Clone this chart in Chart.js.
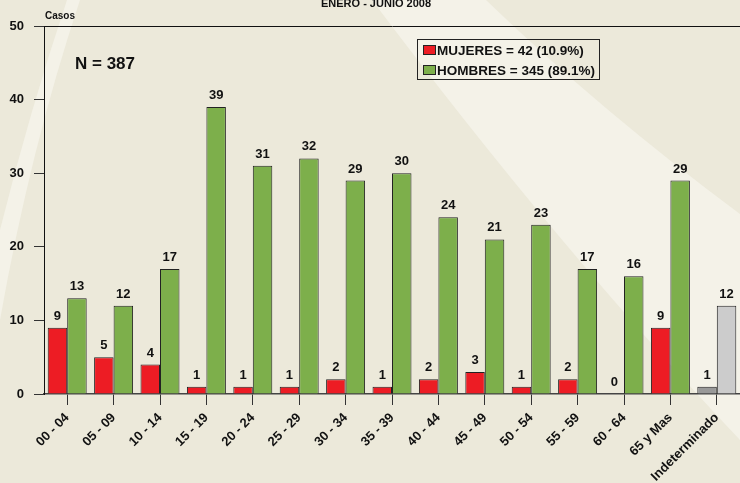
<!DOCTYPE html>
<html>
<head>
<meta charset="utf-8">
<script src="https://cdn.jsdelivr.net/npm/chart.js@4.4.0/dist/chart.umd.min.js"></script>
<style>
  html, body { margin: 0; padding: 0; background: #ECE9DA; }
  #wrap { width: 740px; height: 483px; position: relative; overflow: hidden; }
</style>
</head>
<body>
<div id="wrap"><canvas id="casosChart" width="740" height="483"></canvas></div>
<script>
const categories = ["00 - 04", "05 - 09", "10 - 14", "15 - 19", "20 - 24", "25 - 29", "30 - 34",
  "35 - 39", "40 - 44", "45 - 49", "50 - 54", "55 - 59", "60 - 64", "65 y Mas", "Indeterminado"];
const mujeres = [9, 5, 4, 1, 1, 1, 2, 1, 2, 3, 1, 2, 0, 9, 1];
const hombres = [13, 12, 17, 39, 31, 32, 29, 30, 24, 21, 23, 17, 16, 29, 12];
const yTicks = [0, 10, 20, 30, 40, 50];
const seriesLabels = ["MUJERES = 42 (10.9%)", "HOMBRES = 345 (89.1%)"];
const chartTitle = "ENERO - JUNIO 2008";
const yTitle = "Casos";
const noteText = "N = 387";

const FONT = "'Liberation Sans', Arial, sans-serif";
const RED = "#ED1C24";
const GREEN = "#7DAF4B";

// last category (Indeterminado) is drawn in greys
const redColors = categories.map((c, i) => (i === categories.length - 1 ? "#999999" : RED));
const greenColors = categories.map((c, i) => (i === categories.length - 1 ? "#CCCCCC" : GREEN));

const backgroundPlugin = {
  id: "background",
  beforeDraw(chart) {
    const ctx = chart.ctx;
    ctx.save();
    ctx.fillStyle = "#ECE9DA";
    ctx.fillRect(0, 0, chart.width, chart.height);
    ctx.fillStyle = "#F4F2E8";
    // left light streak
    ctx.beginPath();
    ctx.moveTo(67, 0);
    ctx.quadraticCurveTo(30, 110, 0, 230);
    ctx.lineTo(0, 320);
    ctx.quadraticCurveTo(30, 150, 80, 0);
    ctx.closePath();
    ctx.fill();
    // right light swoosh
    ctx.beginPath();
    ctx.moveTo(372, 0);
    ctx.quadraticCurveTo(560, 250, 740, 440);
    ctx.lineTo(740, 214);
    ctx.quadraticCurveTo(600, 110, 486, 0);
    ctx.closePath();
    ctx.fill();
    ctx.restore();
  },
};

const textPlugin = {
  id: "texts",
  afterDatasetsDraw(chart) {
    const ctx = chart.ctx;
    ctx.save();
    ctx.fillStyle = "#111";
    // value labels above each bar
    ctx.font = "bold 13px " + FONT;
    ctx.textAlign = "center";
    ctx.textBaseline = "alphabetic";
    chart.data.datasets.forEach((ds, di) => {
      const meta = chart.getDatasetMeta(di);
      meta.data.forEach((bar, i) => {
        ctx.fillText(String(ds.data[i]), bar.x, bar.y - 8);
      });
    });

    // title, axis title and note
    ctx.font = "bold 11px " + FONT;
    ctx.fillText(chartTitle, 376, 7);
    ctx.textAlign = "left";
    ctx.font = "bold 10px " + FONT;
    ctx.fillText(yTitle, 45, 19);
    ctx.font = "bold 17px " + FONT;
    ctx.fillText(noteText, 75, 69);

    // legend box
    const bx = 417, by = 39, bw = 182, bh = 40;
    ctx.strokeStyle = "#222";
    ctx.lineWidth = 1;
    ctx.strokeRect(bx + 0.5, by + 0.5, bw, bh);
    ctx.font = "bold 13.5px " + FONT;
    ctx.textBaseline = "middle";
    const swatch = [RED, GREEN];
    seriesLabels.forEach((lab, i) => {
      const y = by + 11 + i * 20;
      ctx.fillStyle = swatch[i];
      ctx.fillRect(bx + 6, y - 5, 13, 10);
      ctx.strokeRect(bx + 6.5, y - 4.5, 12, 9);
      ctx.fillStyle = "#111";
      ctx.fillText(lab, bx + 20, y + 1);
    });
    ctx.restore();
  },
};

new Chart(document.getElementById("casosChart"), {
  type: "bar",
  data: {
    labels: categories,
    datasets: [
      {
        label: seriesLabels[0],
        data: mujeres,
        backgroundColor: redColors,
        borderColor: "#222",
        borderWidth: 1,
      },
      {
        label: seriesLabels[1],
        data: hombres,
        backgroundColor: greenColors,
        borderColor: "#222",
        borderWidth: 1,
      },
    ],
  },
  options: {
    responsive: false,
    animation: false,
    devicePixelRatio: 1,
    layout: { padding: { top: 26, left: 0, right: 0, bottom: 0 } },
    datasets: {
      bar: { categoryPercentage: 0.84, barPercentage: 1.0 },
    },
    plugins: {
      legend: { display: false },
      tooltip: { enabled: false },
    },
    scales: {
      x: {
        afterFit: (scale) => { scale.height = 89; },
        grid: {
          offset: false,
          drawOnChartArea: false,
          tickLength: 11,
          tickColor: "#333",
        },
        border: { color: "#444", width: 1.5 },
        ticks: {
          maxRotation: 45,
          minRotation: 45,
          padding: 5,
          color: "#111",
          font: { family: FONT, size: 13, weight: "bold" },
        },
      },
      y: {
        min: yTicks[0],
        max: yTicks[yTicks.length - 1],
        afterFit: (scale) => { scale.width = 44; },
        afterBuildTicks: (scale) => { scale.ticks = yTicks.map((v) => ({ value: v })); },
        grid: {
          drawOnChartArea: true,
          color: (c) => (c.tick && c.tick.value === 50 ? "#111" : "rgba(0,0,0,0)"),
          tickColor: "#333",
          tickLength: 10,
        },
        border: { color: "#111", width: 1 },
        ticks: {
          padding: 10,
          color: "#111",
          font: { family: FONT, size: 13, weight: "bold" },
        },
      },
    },
  },
  plugins: [backgroundPlugin, textPlugin],
});
</script>
</body>
</html>
